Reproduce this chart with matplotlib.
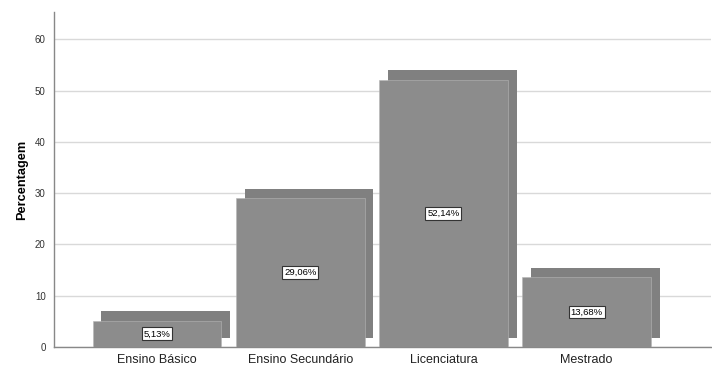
import matplotlib
matplotlib.use('Agg')
import matplotlib.pyplot as plt
from matplotlib.transforms import ScaledTranslation

plt.rcParams['font.family'] = ['Liberation Sans', 'DejaVu Sans']

categories = ['Ensino Básico', 'Ensino Secundário', 'Licenciatura', 'Mestrado']
percentages = [5.13, 29.06, 52.14, 13.68]
labels = ['5,13%', '29,06%', '52,14%', '13,68%']
y_ticks = [0, 10, 20, 30, 40, 50, 60]

fig = plt.figure(figsize=(7.12, 3.67), dpi=100)
ax = fig.add_axes([0.0758, 0.0545, 0.923, 0.9125])

x = list(range(len(categories)))
width = 0.9

# depth effect: same bars shifted right and up, drawn behind
shift = ax.transData + ScaledTranslation(0.088, 0.092, fig.dpi_scale_trans)
ax.bar(x, percentages, width=width, color='#808080', transform=shift, zorder=2)
ax.bar(x, percentages, width=width, color='#8c8c8c', edgecolor='#b5b5b5',
       linewidth=0.4, zorder=3)

for xi, val, lab in zip(x, percentages, labels):
    ax.text(xi, val / 2, lab, ha='center', va='center', fontsize=6.8, color='black',
            zorder=4,
            bbox=dict(boxstyle='square,pad=0.2', facecolor='white', edgecolor='#333333',
                      linewidth=0.8))

ax.set_xlim(-0.72, 3.87)
ax.set_ylim(0, 65.3)
ax.set_yticks(y_ticks)
ax.set_yticklabels([str(t) for t in y_ticks], fontsize=7, color='#333333')
ax.set_xticks(x)
ax.set_xticklabels(categories, fontsize=9, color='#222222')
ax.tick_params(axis='both', length=0, pad=6)
ax.tick_params(axis='x', pad=5)

ax.set_ylabel('Percentagem', fontsize=9.2, fontweight='bold', labelpad=5)

ax.grid(axis='y', color='#d9d9d9', linewidth=1)
ax.set_axisbelow(True)
for side in ['top', 'right']:
    ax.spines[side].set_visible(False)
for side in ['left', 'bottom']:
    ax.spines[side].set_color('#888888')
    ax.spines[side].set_linewidth(1)

fig.savefig('out.png', dpi=100)
